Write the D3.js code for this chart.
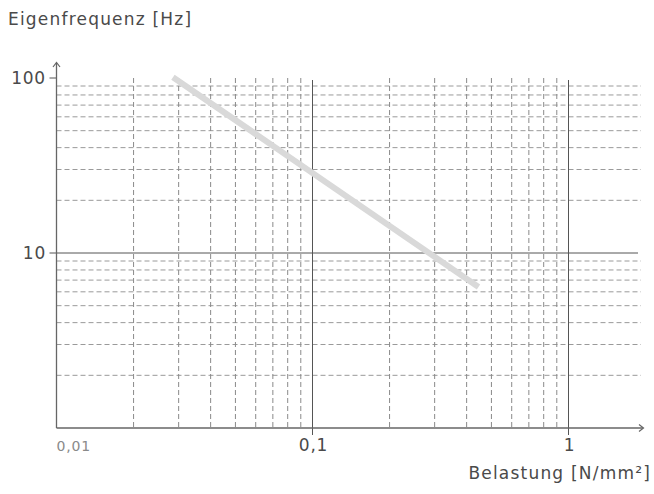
<!DOCTYPE html>
<html><head><meta charset="utf-8">
<script src="https://cdn.jsdelivr.net/npm/d3@7"></script>
<style>
html,body{margin:0;padding:0;background:#fff;}
svg text{font-family:"DejaVu Sans", sans-serif;}
</style>
</head><body>
<svg id="c" width="654" height="494"></svg>
<script>
// Data
const loadValues = [0.0285, 0.445];      // Belastung [N/mm²]
const freqValues = [101, 6.4];           // Eigenfrequenz [Hz]
const xMajorTicks = [0.01, 0.1, 1];
const xTickLabels = ["0,01", "0,1", "1"];
const yMajorTicks = [10, 100];
const yTickLabels = ["10", "100"];
const xMinorTicks = [0.02,0.03,0.04,0.05,0.06,0.07,0.08,0.09,0.2,0.3,0.4,0.5,0.6,0.7,0.8,0.9];
const yMinorTicks = [2,3,4,5,6,7,8,9,20,30,40,50,60,70,80,90];
const xTitle = "Belastung [N/mm²]";
const yTitle = "Eigenfrequenz [Hz]";

const svg = d3.select("#c");
const x = d3.scaleLog().domain([0.01, 1]).range([56.5, 568.5]);
const y = d3.scaleLog().domain([1, 100]).range([428, 78]);
const gridRight = 641;
const textCol = "#4a4a4a";

// minor horizontal dashed
svg.append("g").selectAll("line").data(yMinorTicks).join("line")
  .attr("x1", x(0.01)).attr("x2", gridRight)
  .attr("y1", d => y(d)).attr("y2", d => y(d))
  .attr("stroke", "#9a9a9a").attr("stroke-width", 1).attr("stroke-dasharray", "5,3");
// minor vertical dashed
svg.append("g").selectAll("line").data(xMinorTicks).join("line")
  .attr("x1", d => x(d)).attr("x2", d => x(d))
  .attr("y1", y(100)).attr("y2", y(1))
  .attr("stroke", "#8a8a8a").attr("stroke-width", 1).attr("stroke-dasharray", "5,3");

// solid major lines
svg.append("g").selectAll("line").data(xMajorTicks.slice(1)).join("line")
  .attr("x1", d => x(d)).attr("x2", d => x(d))
  .attr("y1", y(100) + 2).attr("y2", y(1) + 7)
  .attr("stroke", "#555").attr("stroke-width", 1);
svg.append("g").selectAll("line").data(yMajorTicks).join("line")
  .attr("x1", x(0.01) - 7).attr("x2", d => d === 10 ? gridRight - 3 : x(0.01))
  .attr("y1", d => y(d)).attr("y2", d => y(d))
  .attr("stroke", "#555").attr("stroke-width", 1);

// data line
const line = d3.line().x(d => x(d[0])).y(d => y(d[1]));
svg.append("path").datum(loadValues.map((v, i) => [v, freqValues[i]]))
  .attr("d", line).attr("fill", "none")
  .attr("stroke", "#d9d9d9").attr("stroke-width", 6).attr("stroke-linecap", "butt");

// axes
svg.append("line").attr("x1", x(0.01)).attr("x2", x(0.01)).attr("y1", 63).attr("y2", y(1))
  .attr("stroke", "#666").attr("stroke-width", 1.3);
svg.append("line").attr("x1", x(0.01)).attr("x2", 643).attr("y1", y(1)).attr("y2", y(1))
  .attr("stroke", "#666").attr("stroke-width", 1.3);
svg.append("path").attr("d", `M${x(0.01)-3.5},${67} L${x(0.01)},${62.5} L${x(0.01)+3.5},${67}`)
  .attr("fill", "none").attr("stroke", "#666").attr("stroke-width", 1.2);
svg.append("path").attr("d", `M${639},${y(1)-3.5} L${643.5},${y(1)} L${639},${y(1)+3.5}`)
  .attr("fill", "none").attr("stroke", "#666").attr("stroke-width", 1.2);

// tick labels
svg.append("g").selectAll("text").data(yMajorTicks).join("text")
  .attr("x", 46).attr("y", d => y(d) + 6).attr("text-anchor", "end")
  .attr("font-size", 17).attr("letter-spacing", 0.8).attr("fill", textCol).text((d, i) => yTickLabels[i]);
svg.append("g").selectAll("text").data(xMajorTicks).join("text")
  .attr("x", (d, i) => i === 0 ? x(d) : x(d) + 1)
  .attr("text-anchor", (d, i) => i === 0 ? "start" : "middle")
  .attr("y", 451)
  .attr("font-size", (d, i) => i === 0 ? 14 : 17)
  .attr("letter-spacing", 0.8)
  .attr("fill", (d, i) => i === 0 ? "#8a8a8a" : textCol)
  .text((d, i) => xTickLabels[i]);

// titles
svg.append("text").attr("x", 8).attr("y", 25).attr("font-size", 17).attr("letter-spacing", 1.2)
  .attr("fill", textCol).text(yTitle);
svg.append("text").attr("x", 651).attr("y", 479).attr("text-anchor", "end")
  .attr("font-size", 17).attr("letter-spacing", 1.2).attr("fill", textCol).text(xTitle);
</script>
</body></html>
